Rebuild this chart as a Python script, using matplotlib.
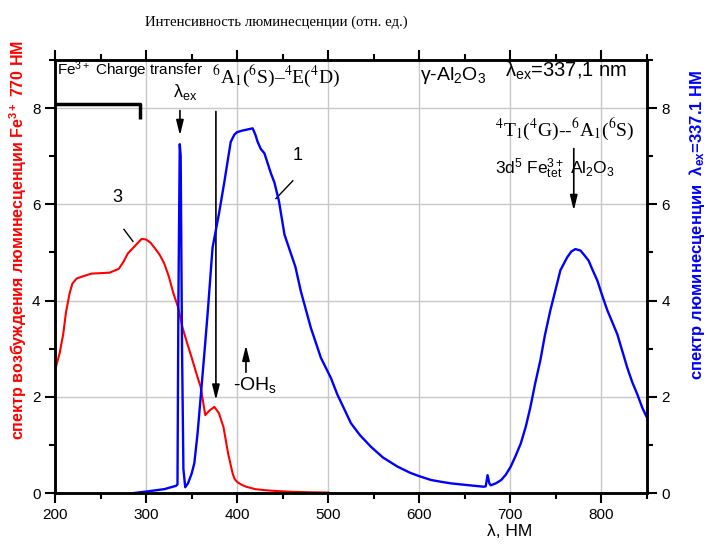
# -*- coding: utf-8 -*-
# Спектры люминесценции gamma-Al2O3 (Fe3+)

import matplotlib
matplotlib.use("Agg")
import matplotlib.pyplot as plt
from matplotlib.ticker import MultipleLocator

plt.rcParams['font.family'] = ['Liberation Sans', 'DejaVu Sans']
plt.rcParams['mathtext.fontset'] = 'custom'
plt.rcParams['mathtext.rm'] = 'Liberation Sans'
plt.rcParams['mathtext.it'] = 'Liberation Sans:italic'
plt.rcParams['mathtext.bf'] = 'Liberation Sans:bold'

# кривая 3: спектр возбуждения (красная)
red_x = [200, 205, 209, 212, 216, 219, 222, 224, 230, 240, 250, 260, 270, 275,
         280, 285, 290, 295, 300, 305, 310, 315, 320, 325, 330, 335, 340, 345,
         350, 355, 360, 365, 370, 375, 380, 385, 390, 395, 397, 400, 405, 410,
         420, 430, 440, 460, 480, 500]
red_y = [2.55, 2.9, 3.3, 3.75, 4.15, 4.35, 4.42, 4.46, 4.5, 4.56, 4.57, 4.58,
         4.66, 4.8, 4.98, 5.08, 5.18, 5.28, 5.27, 5.2, 5.08, 4.95, 4.77, 4.5,
         4.15, 3.87, 3.44, 3.12, 2.82, 2.5, 2.2, 1.62, 1.72, 1.79, 1.66, 1.37,
         0.83, 0.41, 0.3, 0.23, 0.17, 0.13, 0.08, 0.06, 0.045, 0.025, 0.015, 0.01]

# кривая 1: спектр люминесценции (синяя)
blue_x = [287, 300, 320, 333, 334.5, 335.5, 337, 338, 339.5, 341, 343, 346, 350,
          353, 356.6, 360, 364, 367.6, 373, 380, 386, 390, 393, 397, 400, 405,
          410, 417, 420, 422.5, 426, 430, 437, 441, 446, 452, 459, 464, 470, 481,
          492, 503, 510, 525, 535, 547, 560, 576, 590, 600, 613, 625, 635, 650,
          671, 673, 675, 677, 678.5, 684, 690, 695, 700.5, 706, 711.5, 717, 722,
          727, 733, 738, 744, 750, 755, 762.5, 767, 771.5, 777, 781, 786, 790,
          795.5, 801, 806.5, 812, 817.5, 823, 828.5, 834, 839.5, 845, 850]
blue_y = [0.0, 0.03, 0.08, 0.15, 0.18, 4.0, 7.25, 7.0, 3.0, 0.5, 0.12, 0.2, 0.4,
          0.62, 1.25, 2.0, 2.9, 3.73, 5.1, 5.8, 6.47, 6.95, 7.3, 7.45, 7.5, 7.53,
          7.55, 7.58, 7.45, 7.3, 7.15, 7.06, 6.65, 6.45, 6.06, 5.37, 4.98, 4.7,
          4.19, 3.43, 2.81, 2.39, 2.05, 1.45, 1.2, 0.96, 0.74, 0.55, 0.42, 0.35,
          0.27, 0.23, 0.2, 0.17, 0.13, 0.14, 0.37, 0.2, 0.16, 0.2, 0.27, 0.38,
          0.55, 0.78, 1.03, 1.38, 1.78, 2.25, 2.76, 3.28, 3.8, 4.25, 4.63, 4.9,
          5.02, 5.07, 5.04, 4.95, 4.83, 4.65, 4.42, 4.1, 3.8, 3.55, 3.3, 2.95,
          2.6, 2.3, 2.05, 1.77, 1.57]

x_ticks = [200, 300, 400, 500, 600, 700, 800]
y_ticks = [0, 2, 4, 6, 8]


def arrow(ax, x0, y0, x1, y1):
    ax.annotate("", xy=(x1, y1), xytext=(x0, y0),
                arrowprops=dict(arrowstyle="-|>,head_length=0.9,head_width=0.22",
                                color="black", lw=1.2, shrinkA=0, shrinkB=0))


fig = plt.figure(figsize=(7.08, 5.45), dpi=100)
ax = fig.add_axes([0.0777, 0.0954, 0.836, 0.7945])
ax2 = ax.twinx()

ax.plot(red_x, red_y, color="red", lw=1.5)
ax2.plot(blue_x, blue_y, color="blue", lw=1.7)

for a in (ax, ax2):
    a.set_xlim(200, 850)
    a.set_ylim(0, 9)
    a.set_yticks(y_ticks)
    a.yaxis.set_minor_locator(MultipleLocator(1))
    for s in a.spines.values():
        s.set_linewidth(1.8)
ax.set_xticks(x_ticks)
ax.xaxis.set_minor_locator(MultipleLocator(50))
ax.grid(True, which="major", color="#c8c8c8", lw=1.0)
ax.set_axisbelow(True)
ax.tick_params(which="both", direction="out", top=True, labelsize=11,
               width=1.5, color="black")
ax.tick_params(which="major", length=7)
ax.tick_params(which="minor", length=4)
ax2.tick_params(which="both", direction="out", labelsize=11, width=1.5)
ax2.tick_params(which="major", length=7)
ax2.tick_params(which="minor", length=4)

# подписи осей
fig.text(145 / 708, 1 - 22 / 545, "Интенсивность люминесценции (отн. ед.)",
         family="Liberation Serif", fontsize=10.6, va="center", ha="left")
fig.text(18 / 708, 1 - 240 / 545,
         r"спектр возбуждения люминесценции Fe$^{\mathbf{3+}}$ 770 НМ",
         color="red", fontweight="bold", fontsize=11.5, rotation=90,
         ha="center", va="center")
fig.text(697 / 708, 1 - 225 / 545,
         r"спектр люминесценции  λ$_{\mathbf{ex}}$=337.1 НМ",
         color="blue", fontweight="bold", fontsize=12, rotation=90,
         ha="center", va="center")
fig.text(510 / 708, 1 - 531 / 545, "λ, НМ", fontsize=12.5, ha="center", va="center")

# скобка и надписи
ax.plot([200, 293.3, 293.3], [8.09, 8.09, 7.78], color="black", lw=2.5,
        clip_on=False, solid_capstyle="butt")
ax.text(202, 8.78, r"Fe$^{3+}$ Charge transfer", fontsize=11, va="center")
ax.text(329.5, 8.33, r"λ$_{\mathrm{ex}}$", fontsize=13, va="center")
arrow(ax, 337.2, 7.95, 337.2, 7.43)
ax.text(372.3, 8.67, r"$^6$A$_1$($^6$S)–$^4$E($^4$D)", family="Liberation Serif",
        fontsize=14, va="center", math_fontfamily="stix")
arrow(ax, 376.7, 7.93, 376.7, 1.93)
arrow(ax, 409.7, 2.51, 409.7, 3.07)
ax.text(395.4, 2.24, r"-OH$_\mathrm{s}$", fontsize=14, va="center")
ax.text(268, 6.14, "3", fontsize=13, ha="center", va="center")
ax.plot([275.7, 285.6], [5.48, 5.23], color="black", lw=1)
ax.text(466.7, 7.01, "1", fontsize=13, ha="center", va="center")
ax.plot([461.2, 442.6], [6.49, 6.12], color="black", lw=1)
ax.text(600.7, 8.67, r"γ-Al$_2$O$_3$", fontsize=14, va="center")
ax.text(694, 8.78, r"λ$_{\mathrm{ex}}$=337,1 nm", fontsize=14.5, va="center")
ax.text(683, 7.57, r"$^4$T$_1$($^4$G)--$^6$A$_1$($^6$S)", family="Liberation Serif",
        fontsize=14, va="center", math_fontfamily="stix")
ax.text(683, 6.74, r"3d$^5$ Fe$_{\mathrm{tet}}^{3+}$ Al$_2$O$_3$", fontsize=12.5,
        va="center")
arrow(ax, 769.7, 7.16, 769.7, 5.87)

fig.savefig("out.png", dpi=100)
